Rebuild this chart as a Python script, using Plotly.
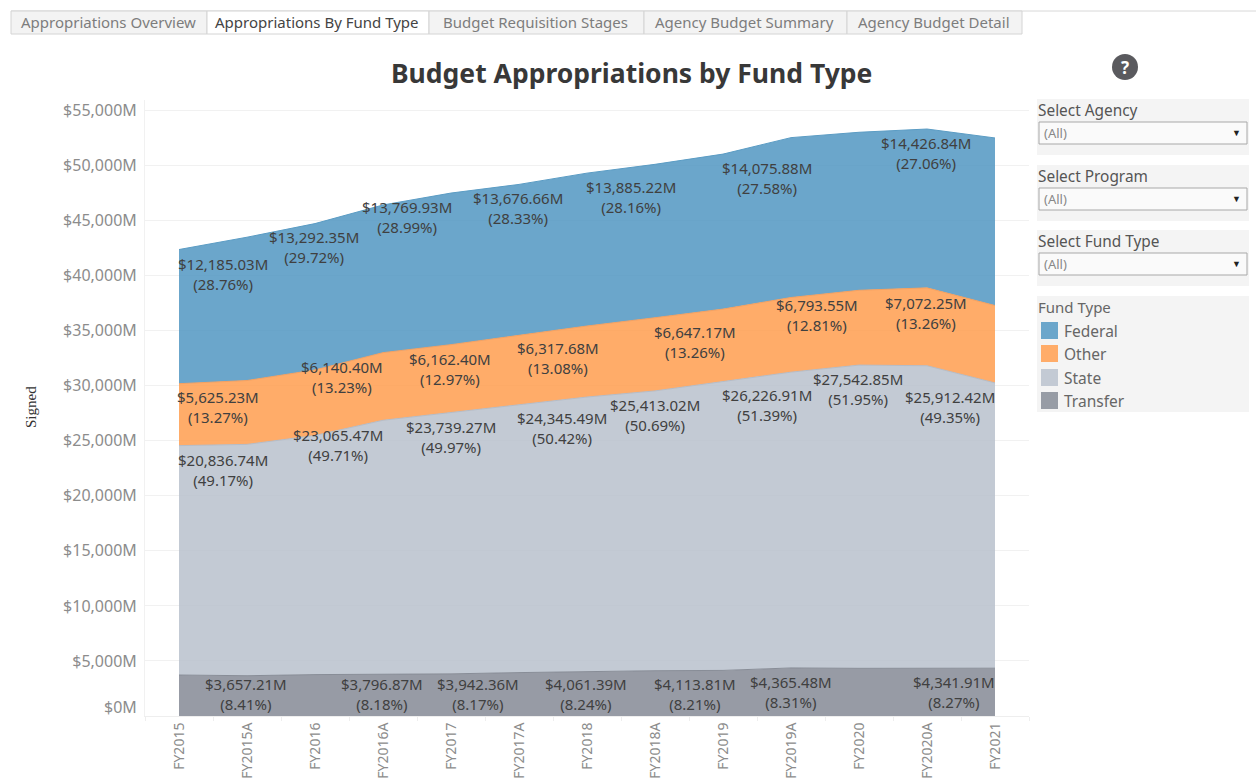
import plotly.graph_objects as go

W = 1256
H = 781
FONT = "Noto Sans"

categories = ['FY2015', 'FY2015A', 'FY2016', 'FY2016A', 'FY2017', 'FY2017A', 'FY2018',
              'FY2018A', 'FY2019', 'FY2019A', 'FY2020', 'FY2020A', 'FY2021']

# $M
transfer = [3721, 3657.21, 3760, 3796.87, 3827, 3942.36, 4061.39, 4113.81, 4140, 4365.48, 4330, 4340, 4341.91]
state = [20836.74, 21013, 21720, 23065.47, 23739.27, 24345.49, 24911, 25413.02, 26226.91, 26866, 27542.85, 27475, 25912.42]
other = [5625.23, 5800, 5953, 6140.40, 6162.40, 6317.68, 6450, 6647.17, 6593, 6780, 6793.55, 7072.25, 7030]
federal = [12185.03, 13017, 13292.35, 13412, 13769.93, 13676.66, 13885.22, 13933, 14075.88, 14520, 14352, 14426.84, 15218]

y_ticks = [0, 5000, 10000, 15000, 20000, 25000, 30000, 35000, 40000, 45000, 50000, 55000]
y_tick_text = ['', '$5,000M', '$10,000M', '$15,000M', '$20,000M', '$25,000M', '$30,000M', '$35,000M',
               '$40,000M', '$45,000M', '$50,000M', '$55,000M']

tabs = ['Appropriations Overview', 'Appropriations By Fund Type', 'Budget Requisition Stages',
        'Agency Budget Summary', 'Agency Budget Detail']
tab_edges = [11, 207, 429, 644, 847, 1022]
filters = ['Select Agency', 'Select Program', 'Select Fund Type']
legend_names = ['Federal', 'Other', 'State', 'Transfer']

colors = {
    'Federal': ('rgba(81,150,194,0.85)', '#5b9cc4', '#6ba6cb'),
    'Other': ('rgba(255,157,79,0.85)', '#f5a05f', '#ffac69'),
    'State': ('rgba(184,193,204,0.85)', '#b4bcc8', '#c3cad4'),
    'Transfer': ('rgba(133,138,149,0.85)', '#888d97', '#979ca5'),
}

# text, centre x px, centre y px
labels = [
    ('$12,185.03M', '(28.76%)', 223, 274), ('$13,292.35M', '(29.72%)', 314, 247),
    ('$13,769.93M', '(28.99%)', 407, 217), ('$13,676.66M', '(28.33%)', 518, 208),
    ('$13,885.22M', '(28.16%)', 631, 197), ('$14,075.88M', '(27.58%)', 767, 178),
    ('$14,426.84M', '(27.06%)', 926, 153),
    ('$5,625.23M', '(13.27%)', 218, 407), ('$6,140.40M', '(13.23%)', 342, 377),
    ('$6,162.40M', '(12.97%)', 450, 369), ('$6,317.68M', '(13.08%)', 558, 358),
    ('$6,647.17M', '(13.26%)', 695, 342), ('$6,793.55M', '(12.81%)', 817, 315),
    ('$7,072.25M', '(13.26%)', 926, 313),
    ('$20,836.74M', '(49.17%)', 223, 470), ('$23,065.47M', '(49.71%)', 338, 445),
    ('$23,739.27M', '(49.97%)', 451, 437), ('$24,345.49M', '(50.42%)', 562, 428),
    ('$25,413.02M', '(50.69%)', 655, 415), ('$26,226.91M', '(51.39%)', 767, 405),
    ('$27,542.85M', '(51.95%)', 858, 389), ('$25,912.42M', '(49.35%)', 950, 407),
    ('$3,657.21M', '(8.41%)', 246, 694), ('$3,796.87M', '(8.18%)', 382, 694),
    ('$3,942.36M', '(8.17%)', 478, 694), ('$4,061.39M', '(8.24%)', 586, 694),
    ('$4,113.81M', '(8.21%)', 695, 694), ('$4,365.48M', '(8.31%)', 791, 692),
    ('$4,341.91M', '(8.27%)', 954, 692),
]


def px(x):
    return x / W


def py(y):
    return 1 - y / H


def text(x, y, s, size=14, color='#555555', anchor='left', **kw):
    return dict(x=px(x), y=py(y), xref='paper', yref='paper', text=s, showarrow=False,
                xanchor=anchor, yanchor='middle', font=dict(family=kw.pop('family', FONT), size=size, color=color), **kw)


def rect(x0, y0, x1, y1, fill, line=None, width=1):
    return dict(type='rect', xref='paper', yref='paper', x0=px(x0), x1=px(x1), y0=py(y0), y1=py(y1),
                fillcolor=fill, line=dict(color=line or fill, width=width if line else 0), layer='below')


fig = go.Figure()
for name, values in [('Transfer', transfer), ('State', state), ('Other', other), ('Federal', federal)]:
    fig.add_trace(go.Scatter(x=categories, y=values, name=name, mode='lines', stackgroup='one',
                             fillcolor=colors[name][0], line=dict(color=colors[name][1], width=1)))

annotations = []
shapes = []

# tab strip
shapes.append(dict(type='line', xref='paper', yref='paper', x0=px(11), x1=px(1256), y0=py(11), y1=py(11),
                   line=dict(color='#d8d8d8', width=1), layer='below'))
for i, tab in enumerate(tabs):
    selected = i == 1
    shapes.append(rect(tab_edges[i], 11, tab_edges[i + 1], 34, '#ffffff' if selected else '#f3f3f3', '#d4d4d4'))
    annotations.append(text((tab_edges[i] + tab_edges[i + 1]) / 2 - 1, 22, tab, 15,
                            '#444444' if selected else '#7d7d7d', 'center'))

annotations.append(text(631, 73, '<b>Budget Appropriations by Fund Type</b>', 26.5, '#383838', 'center'))
annotations.append(text(31, 407, 'Signed', 15, '#333333', 'center', textangle=-90, family='Liberation Serif'))
annotations.append(text(139, 707, '$0M', 16, '#8c8c8c', 'right'))

# filter panels
for name, y0 in zip(filters, [99, 165, 230]):
    shapes.append(rect(1037, y0, 1249, y0 + 56, '#f4f4f4'))
    annotations.append(text(1036, y0 + 11, name, 15.4, '#555555'))
    shapes.append(rect(1039, y0 + 23, 1247, y0 + 45, '#fafafa', '#a8a8a8'))
    annotations.append(text(1042, y0 + 34, '(All)', 13, '#888888'))
    annotations.append(text(1236, y0 + 33, '▼', 9, '#222222', 'center'))

# legend panel
shapes.append(rect(1037, 296, 1249, 412, '#f4f4f4'))
annotations.append(text(1036, 307, 'Fund Type', 15, '#666666'))
for name, y in zip(legend_names, [330.5, 353.5, 377.5, 400.5]):
    shapes.append(rect(1041, y - 8.5, 1058, y + 8.5, colors[name][2]))
    annotations.append(text(1062, y + 0.5, name, 15.5, '#666666'))

# help icon
shapes.append(dict(type='circle', xref='paper', yref='paper', x0=px(1112), x1=px(1138), y0=py(80), y1=py(54),
                   fillcolor='#5a5a5e', line=dict(width=0)))
annotations.append(text(1125, 67, '<b>?</b>', 17, '#ffffff', 'center'))

for value, pct, x, y in labels:
    annotations.append(text(x, y, value + '<br>' + pct, 15, '#404040', 'center'))

fig.update_layout(
    width=W,
    height=H,
    autosize=False,
    margin=dict(l=0, r=0, t=0, b=0, autoexpand=False),
    paper_bgcolor='#ffffff',
    plot_bgcolor='#ffffff',
    showlegend=False,
    shapes=shapes,
    annotations=annotations,
    font=dict(family=FONT),
)
fig.update_xaxes(
    domain=[px(145), px(1029)],
    type='category',
    range=[-0.5, 12.5],
    automargin=False,
    showgrid=False,
    zeroline=False,
    showline=True,
    linecolor='#eeeeee',
    ticks='outside',
    tickson='boundaries',
    ticklen=4,
    tickcolor='#eeeeee',
    tickangle=-90,
    tickfont=dict(family=FONT, size=14, color='#8c8c8c'),
)
fig.update_yaxes(
    domain=[py(716), py(100)],
    range=[0, 55950],
    automargin=False,
    tickvals=y_ticks,
    ticktext=y_tick_text,
    showgrid=True,
    gridcolor='#f1f1f1',
    zeroline=False,
    showline=True,
    linecolor='#f1f1f1',
    ticks='',
    ticklabelstandoff=4,
    tickfont=dict(family=FONT, size=16, color='#8c8c8c'),
)

# the page's default body margin would push everything 8px in
fig.write_html("out.html", config={'displayModeBar': False}, post_script="document.body.style.margin='0';")
